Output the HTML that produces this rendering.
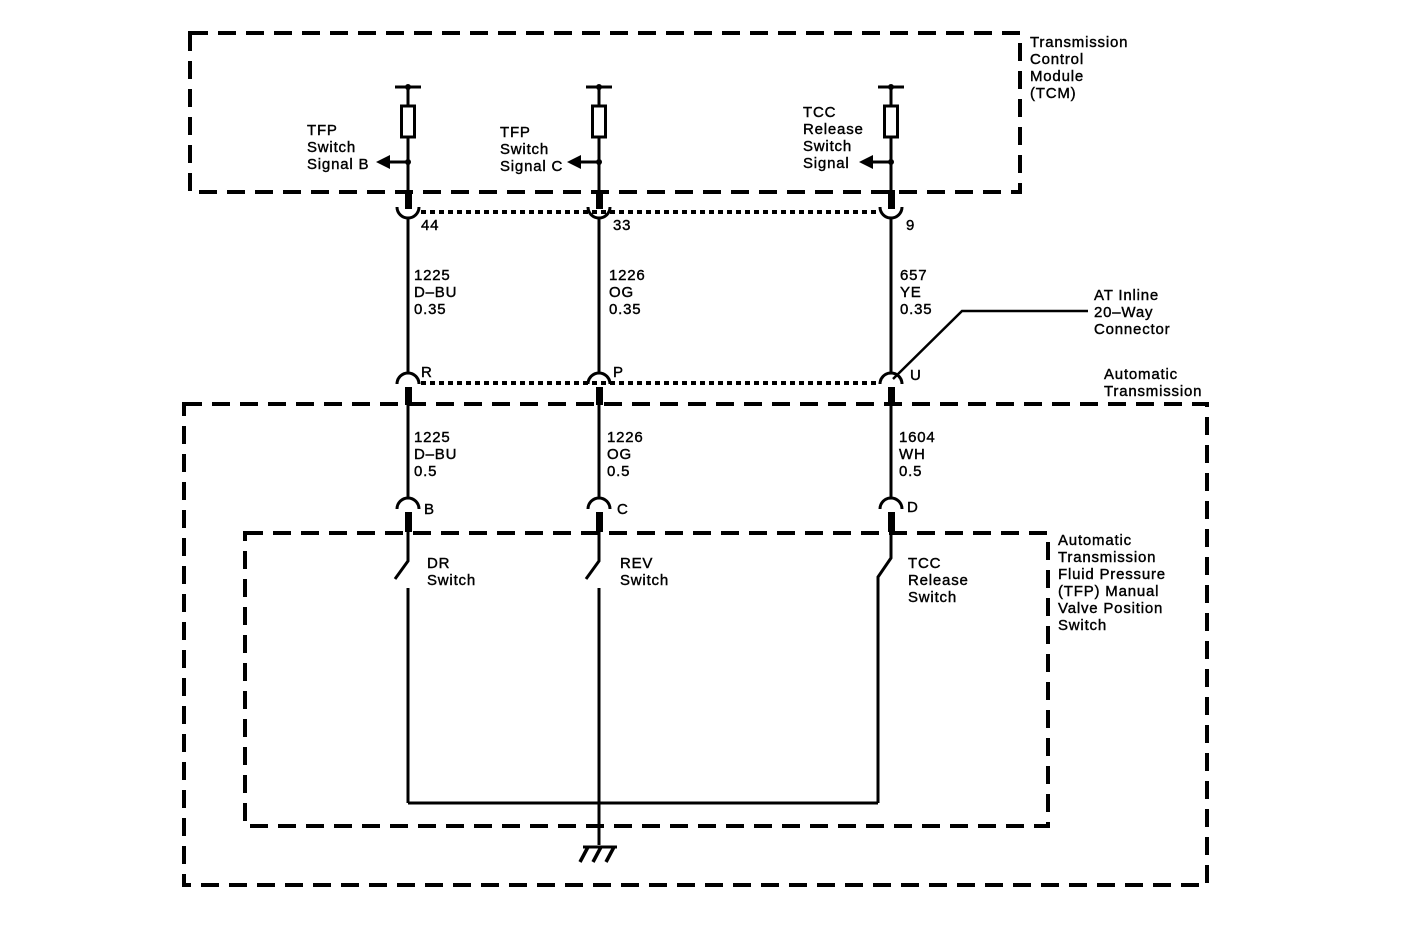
<!DOCTYPE html>
<html><head><style>
html,body{margin:0;padding:0;background:#fff;}
svg text{font-family:"Liberation Sans",Arial,sans-serif;font-size:15px;fill:#000;stroke:#000;stroke-width:0.4;letter-spacing:0.8px;}
</style></head><body>
<svg width="1408" height="920" xmlns="http://www.w3.org/2000/svg">
<defs>
<g id="top">
  <line x1="-13" y1="87" x2="13" y2="87" stroke="#000" stroke-width="3"/>
  <circle cx="0" cy="87" r="3"/>
  <line x1="0" y1="87" x2="0" y2="105" stroke="#000" stroke-width="3"/>
  <rect x="-6.5" y="106" width="13" height="31" fill="none" stroke="#000" stroke-width="3"/>
  <line x1="0" y1="137" x2="0" y2="192" stroke="#000" stroke-width="3"/>
  <circle cx="0" cy="162" r="3"/>
  <line x1="0" y1="162" x2="-18" y2="162" stroke="#000" stroke-width="3"/>
  <polygon points="-32,162 -18,155 -18,169"/>
  <rect x="-3" y="190" width="7" height="19"/>
  <path d="M -11 207 A 11 11 0 0 0 11 207" fill="none" stroke="#000" stroke-width="3"/>
  <line x1="0" y1="218" x2="0" y2="373" stroke="#000" stroke-width="3"/>
  <path d="M -11 384 A 11 11 0 0 1 11 384" fill="none" stroke="#000" stroke-width="3"/>
  <rect x="-3" y="387" width="7" height="18"/>
  <line x1="0" y1="403" x2="0" y2="498" stroke="#000" stroke-width="3"/>
  <path d="M -11 509 A 11 11 0 0 1 11 509" fill="none" stroke="#000" stroke-width="3"/>
  <rect x="-3" y="512" width="7" height="20"/>
</g>
</defs>
<g fill="#000">
<use href="#top" x="408"/>
<use href="#top" x="599"/>
<use href="#top" x="891"/>
</g>
<g fill="none" stroke="#000" stroke-width="4" stroke-dasharray="18,10">
<rect x="190" y="33" width="830" height="159"/>
<rect x="184" y="404" width="1023" height="481"/>
<rect x="245" y="533" width="803" height="293"/>
</g>
<g stroke="#000" stroke-width="4" stroke-dasharray="5,4">
<line x1="421" y1="212" x2="880" y2="212"/>
<line x1="421" y1="383" x2="880" y2="383"/>
</g>
<g stroke="#000" stroke-width="3" fill="none">
<polyline points="408,530 408,561 395,579"/>
<line x1="408" y1="588" x2="408" y2="803"/>
<polyline points="599,530 599,561 586,579"/>
<line x1="599" y1="588" x2="599" y2="845"/>
<polyline points="891,530 891,558 878,577 878,803"/>
<line x1="408" y1="803" x2="878" y2="803"/>
<line x1="583" y1="847" x2="617" y2="847"/>
<g stroke-width="3.5">
<line x1="588" y1="847" x2="580" y2="862"/>
<line x1="601" y1="847" x2="593" y2="862"/>
<line x1="614" y1="847" x2="606" y2="862"/>
</g>
<polyline points="893,379 962,311 1088,311" stroke-width="2.5"/>
</g>
<text x="307" y="135">TFP</text><text x="307" y="152">Switch</text><text x="307" y="169">Signal B</text>
<text x="500" y="137">TFP</text><text x="500" y="154">Switch</text><text x="500" y="171">Signal C</text>
<text x="803" y="117">TCC</text><text x="803" y="134">Release</text><text x="803" y="151">Switch</text><text x="803" y="168">Signal</text>
<text x="1030" y="47">Transmission</text><text x="1030" y="64">Control</text><text x="1030" y="81">Module</text><text x="1030" y="98">(TCM)</text>
<text x="421" y="230">44</text><text x="613" y="230">33</text><text x="906" y="230">9</text>
<text x="414" y="280">1225</text><text x="414" y="297">D–BU</text><text x="414" y="314">0.35</text>
<text x="609" y="280">1226</text><text x="609" y="297">OG</text><text x="609" y="314">0.35</text>
<text x="900" y="280">657</text><text x="900" y="297">YE</text><text x="900" y="314">0.35</text>
<text x="1094" y="300">AT Inline</text><text x="1094" y="317">20–Way</text><text x="1094" y="334">Connector</text>
<text x="421" y="377">R</text><text x="613" y="377">P</text><text x="910" y="380">U</text>
<text x="1104" y="379">Automatic</text><text x="1104" y="396">Transmission</text>
<text x="414" y="442">1225</text><text x="414" y="459">D–BU</text><text x="414" y="476">0.5</text>
<text x="607" y="442">1226</text><text x="607" y="459">OG</text><text x="607" y="476">0.5</text>
<text x="899" y="442">1604</text><text x="899" y="459">WH</text><text x="899" y="476">0.5</text>
<text x="424" y="514">B</text><text x="617" y="514">C</text><text x="907" y="512">D</text>
<text x="427" y="568">DR</text><text x="427" y="585">Switch</text>
<text x="620" y="568">REV</text><text x="620" y="585">Switch</text>
<text x="908" y="568">TCC</text><text x="908" y="585">Release</text><text x="908" y="602">Switch</text>
<text x="1058" y="545">Automatic</text><text x="1058" y="562">Transmission</text><text x="1058" y="579">Fluid Pressure</text><text x="1058" y="596">(TFP) Manual</text><text x="1058" y="613">Valve Position</text><text x="1058" y="630">Switch</text>
</svg>
</body></html>
